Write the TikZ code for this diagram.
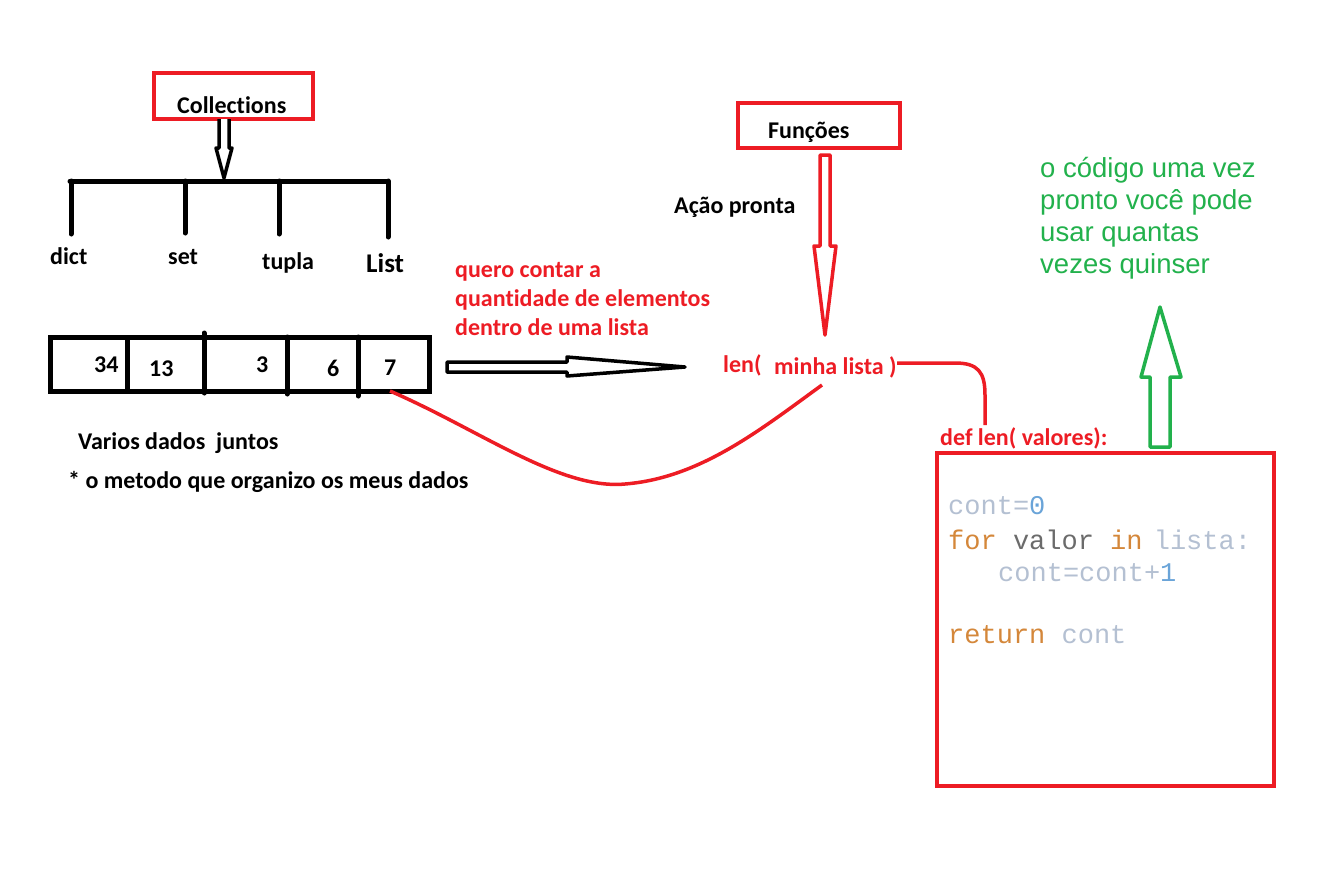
\documentclass[tikz,border=0pt]{standalone}
\usepackage{fontspec}
\setmainfont{Carlito}[Ligatures=NoCommon]
\newfontfamily\arialf{Liberation Sans}
\newfontfamily\courf{Liberation Mono}
\definecolor{pred}{HTML}{ED1C24}
\definecolor{pgreen}{HTML}{22B14C}
\definecolor{cgray}{HTML}{B4C0D2}
\definecolor{cblue}{HTML}{6AA4D8}
\definecolor{corange}{HTML}{D4873A}
\definecolor{cdark}{HTML}{6B6B6B}
\begin{document}
\begin{tikzpicture}[x=1pt,y=-1pt,
  lbl/.style={inner sep=0pt, anchor=base west, font=\bfseries\fontsize{24}{28}\selectfont},
  redlbl/.style={lbl, text=pred},
  greenlbl/.style={inner sep=0pt, anchor=base west, text=pgreen, align=left,
    font=\arialf\fontsize{27.5}{32}\selectfont},
  codelbl/.style={inner sep=0pt, anchor=base west, font=\courf\fontsize{27}{32}\selectfont},
  redbox/.style={draw=pred, line width=4pt, inner sep=0pt},
  blackline/.style={line width=5pt, line cap=round},
  hollowarrow/.style={line width=3.5pt, line join=round, fill=white}
]
\useasboundingbox (0,0) rectangle (1334,871);

% Collections
\node[redbox, minimum width=159pt, minimum height=46pt] (coll) at (233.5,96) {};
\node[lbl] (colltxt) at (177,113) {Collections};
\draw[hollowarrow] (219,119) -- (219,148) -- (216,148) -- (224,178) -- (232,148) -- (229,148) -- (229,119);
\coordinate (tip1) at (224,178);

% tree
\coordinate (barL) at (70,181);
\coordinate (barR) at (388,181);
\draw[blackline] (barL) -- (barR);
\draw[blackline] (71,181) -- (71,234);
\draw[blackline] (185,181) -- (185,233);
\draw[blackline] (279,181) -- (279,234);
\draw[blackline] (388,181) -- (388,237);
\node[lbl] (dict) at (50,264) {dict};
\node[lbl] (set) at (168,264) {set};
\node[lbl] (tupla) at (262,269) {tupla};
\node[inner sep=0pt, anchor=base west, font=\fontsize{27}{30}\selectfont] (list) at (366,272) {\textbf{List}};

% array
\node[draw, line width=5pt, minimum width=379pt, minimum height=54pt, inner sep=0pt] (arr) at (239.5,364) {};
\draw[line width=5pt] (127,337) -- (127,391);
\draw[line width=5pt, line cap=round] (204,333) -- (204,393);
\draw[line width=5pt, line cap=round] (287,337) -- (287,394);
\draw[line width=5pt, line cap=round] (358,337) -- (358,396);
\node[lbl] (n34) at (94,372) {34};
\node[lbl] (n13) at (149,376) {13};
\node[lbl] (n3) at (256,372) {3};
\node[lbl] (n6) at (327,376) {6};
\node[lbl] (n7) at (384,375) {7};
\coordinate (c7) at (390,391);

\node[lbl] (varios) at (78,449) {Varios dados\ \ juntos};
\node[lbl] (metodo) at (68,488) {* o metodo que organizo os meus dados};

% red question
\node[redlbl] (q1) at (455,277) {quero contar a};
\node[redlbl] (q2) at (455,306) {quantidade de elementos};
\node[redlbl] (q3) at (455,335) {dentro de uma lista};

% horizontal hollow arrow
\draw[hollowarrow] (447,362) -- (567,362) -- (567,357) -- (685,367) -- (567,376) -- (567,372) -- (447,372) -- cycle;

% len(
\node[redlbl] (len) at (723,372) {len(};
\node[redlbl] (minha) at (774,374) {minha lista\ )};
\coordinate (mbot) at (822,385);

% Funcoes
\node[redbox, minimum width=162pt, minimum height=45pt] (func) at (819,125.5) {};
\node[lbl] (functxt) at (768,138) {Funções};
\node[lbl] (acao) at (674,213) {Ação pronta};
\draw[hollowarrow, draw=pred] (820,155) -- (820,246) -- (814,246) -- (825,335) -- (836,246) -- (830,246) -- (830,155) -- cycle;

% curve from array to len
\draw[pred, line width=3.5pt] (c7) .. controls (480,430) and (560,490) .. (625,484)
  .. controls (700,478) and (760,430) .. (mbot);

% connector to def
\coordinate (rp) at (897,363);
\coordinate (dtop) at (985,425);
\draw[pred, line width=3.5pt] (rp) -- (955,363) .. controls (978,363) and (985,372) .. (985,395) -- (dtop);

\node[redlbl] (def) at (940,445) {def len( valores):};

% code box
\node[redbox, minimum width=337pt, minimum height=333pt] (codebox) at (1105.5,619.5) {};
\node[codelbl] (l1) at (948,514) {\textcolor{cgray}{cont=}\textcolor{cblue}{0}};
\node[codelbl] (l2) at (948,549) {\textcolor{corange}{for} \textcolor{cdark}{valor} \textcolor{corange}{in}\hspace{-5pt} \textcolor{cgray}{lista:}};
\node[codelbl] (l3) at (998,581) {\textcolor{cgray}{cont=cont+}\textcolor{cblue}{1}};
\node[codelbl] (l4) at (948,643) {\textcolor{corange}{return} \textcolor{cgray}{cont}};

% green arrow
\draw[hollowarrow, draw=pgreen] (1150,447) -- (1150,377) -- (1141,377) -- (1160,307) -- (1181,377) -- (1170,377) -- (1170,447) -- cycle;

\node[greenlbl] (g1) at (1040,177) {o código uma vez};
\node[greenlbl] (g2) at (1040,209) {pronto você pode};
\node[greenlbl] (g3) at (1040,241) {usar quantas};
\node[greenlbl] (g4) at (1040,273) {vezes quinser};
\end{tikzpicture}
\end{document}
